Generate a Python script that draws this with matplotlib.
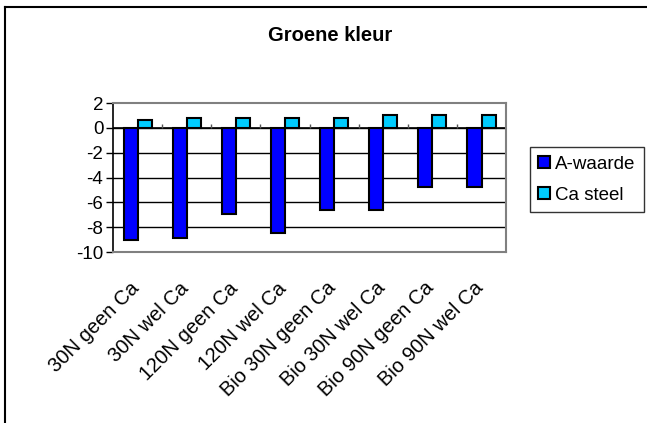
import matplotlib
matplotlib.use("Agg")
import matplotlib.pyplot as plt
import matplotlib.transforms as mtransforms
import numpy as np
from matplotlib.lines import Line2D

categories = ["30N geen Ca", "30N wel Ca", "120N geen Ca", "120N wel Ca",
              "Bio 30N geen Ca", "Bio 30N wel Ca", "Bio 90N geen Ca", "Bio 90N wel Ca"]
a_waarde = [-9.0, -8.85, -6.95, -8.5, -6.6, -6.6, -4.8, -4.8]
ca_steel = [0.67, 0.83, 0.83, 0.83, 0.83, 1.0, 1.0, 1.0]
series_names = ["A-waarde", "Ca steel"]
yticks = [2, 0, -2, -4, -6, -8, -10]
title = "Groene kleur"

plt.rcParams['font.family'] = ['Liberation Sans', 'DejaVu Sans']

fig = plt.figure(figsize=(6.47, 4.23), dpi=100)
ax = fig.add_axes([0.1747, 0.404, 0.6075, 0.3525])

x = np.arange(len(categories))
w = 1 / 3.5
b1 = ax.bar(x - w / 2, a_waarde, w, color="#0000FF", edgecolor="black", linewidth=1.5,
            label=series_names[0], zorder=3)
b2 = ax.bar(x + w / 2, ca_steel, w, color="#00CCFF", edgecolor="black", linewidth=1.5,
            label=series_names[1], zorder=3)

ax.set_xlim(-0.5, len(categories) - 0.5)
ax.set_ylim(-10, 2)
ax.set_yticks(yticks)
ax.set_yticklabels([str(t) for t in yticks], fontsize=13.5)
for t in yticks[1:-1]:
    ax.axhline(t, color="black", linewidth=1, zorder=1)
ax.axhline(0, color="black", linewidth=1.2, zorder=2)
# category tick marks at the zero line
ax.vlines(x[:-1] + 0.5, 0, 0.3, color="#555555", linewidth=1, zorder=2)

ax.set_xticks(x)
ax.set_xticklabels(categories, rotation=45, ha="right", rotation_mode="anchor", fontsize=14.5)
ax.tick_params(axis="x", length=0, pad=19)
ax.tick_params(axis="y", length=5, width=1, color="black", pad=2)
offset = mtransforms.ScaledTranslation(-8 / 100, 0, fig.dpi_scale_trans)
for lbl in ax.get_xticklabels():
    lbl.set_transform(lbl.get_transform() + offset)
for s in ["top", "right", "bottom"]:
    ax.spines[s].set_color("#808080")
    ax.spines[s].set_linewidth(1.5)
ax.spines["left"].set_color("black")
ax.spines["left"].set_linewidth(1.2)

fig.text(0.51, 0.917, title, ha="center", va="center", fontsize=14.5, fontweight="bold")

leg = fig.legend(handles=[b1, b2], labels=series_names, loc="upper left",
                 bbox_to_anchor=(0.819, 0.652), fontsize=13.5, frameon=True, fancybox=False,
                 edgecolor="black", handlelength=0.6, handleheight=0.6, handletextpad=0.3,
                 borderpad=0.45, labelspacing=0.75, borderaxespad=0)
leg.get_frame().set_linewidth(1)

# chart area border (top and left visible)
fig.add_artist(Line2D([0.0085, 1.0], [0.983, 0.983], transform=fig.transFigure, color="black", linewidth=1.5))
fig.add_artist(Line2D([0.0085, 0.0085], [0.0, 0.983], transform=fig.transFigure, color="black", linewidth=1.5))

fig.savefig("out.png", dpi=100)
